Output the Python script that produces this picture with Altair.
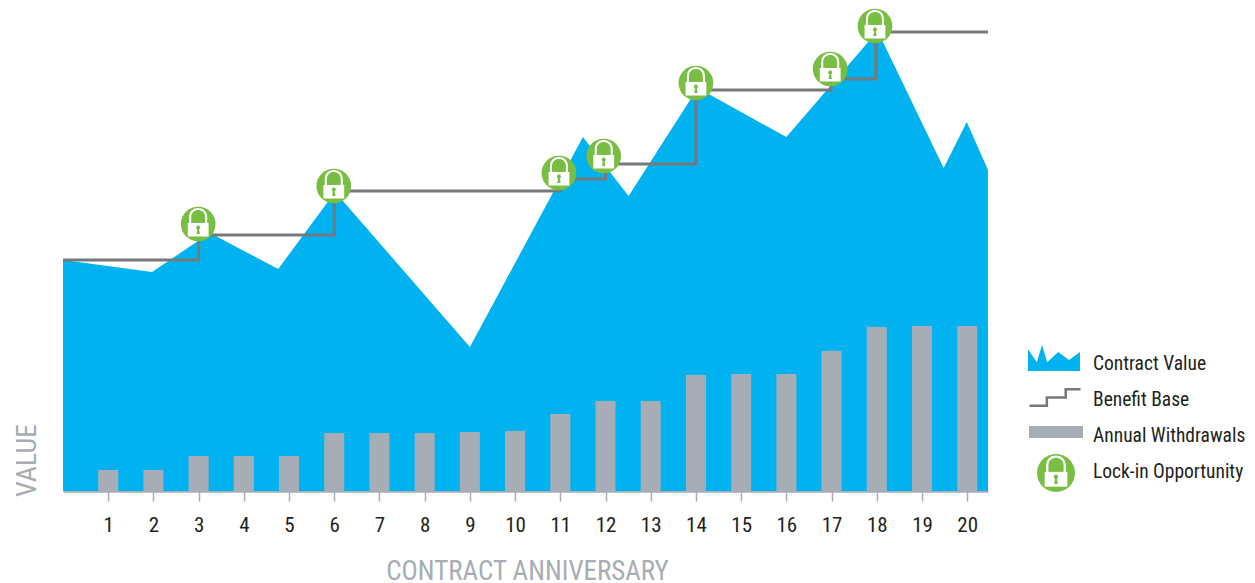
import altair as alt
import pandas as pd

# Series values (value units = pixels above baseline in the reference)
anniversaries = list(range(1, 21))
withdrawals = [21, 21, 35, 35, 35, 58, 58, 58, 59, 60, 77, 90, 90, 116, 117, 117, 140, 164, 165, 165]
contract_x = [0, 1.97, 3.25, 4.76, 6.02, 9, 11.5, 12.51, 14.04, 16, 18.02, 19.48, 19.99, 20.46]
contract_y = [231, 219, 258, 222, 299, 144, 354, 295, 403, 354, 460, 323, 369, 321]
base_x = [0, 3, 6, 11, 12, 14, 16.99, 17.98, 20.46]
base_y = [231, 256, 300, 312, 327, 401, 412, 459, 459]
lock_x = [2.99, 5.99, 10.97, 11.96, 14, 16.97, 17.96]
lock_y = [267, 305, 318, 335, 408, 422, 465]
legend_labels = ["Contract Value", "Benefit Base", "Annual Withdrawals", "Lock-in Opportunity"]
legend_y = [127, 91, 55, 19]

FONT = "Roboto Condensed, Roboto"
BLUE = "#00b2ef"
BAR = "#a7adb5"
STEP = "#77787b"
GREEN = "#78be43"
INK = "#231f20"

W, H = 925, 483
x_scale = alt.Scale(domain=[0, 20.46], nice=False, zero=False, padding=0)
y_scale = alt.Scale(domain=[0, 483], nice=False)

SHACKLE = ("M-0.26,0 L-0.26,-0.2 C-0.26,-0.55 0.26,-0.55 0.26,-0.2 L0.26,0 L0.2,0 L0.2,-0.2 "
           "C0.2,-0.47 -0.2,-0.47 -0.2,-0.2 L-0.2,0 Z")
BODY = "M-0.3,-0.03 L0.3,-0.03 L0.3,0.36 L-0.3,0.36 Z"
KEY = "M-0.05,0.29 L-0.025,0.16 C-0.08,0.12 -0.06,0.04 0,0.04 C0.06,0.04 0.08,0.12 0.025,0.16 L0.05,0.29 Z"
AREA_ICON = "M-0.5,0.25 L-0.5,-0.17 L-0.33,0.08 L-0.23,-0.25 L-0.13,0.08 L0.08,-0.115 L0.29,0.04 L0.5,-0.115 L0.5,0.25 Z"
STEP_ICON = "M-0.5,0.16 L-0.16,0.16 L-0.16,0 L0.21,0 L0.21,-0.16 L0.5,-0.16"
BAR_ICON = "M-0.5,-0.11 L0.5,-0.11 L0.5,0.11 L-0.5,0.11 Z"

axis_x = alt.Axis(values=anniversaries, format="d", grid=False, domainColor=BAR, domainWidth=2.5,
                  tickColor=BAR, tickWidth=1.5, tickSize=10, labelFont=FONT, labelFontSize=21,
                  labelColor=INK, labelPadding=13, title="CONTRACT ANNIVERSARY", titleFont=FONT,
                  titleFontSize=27, titleFontWeight="normal", titleColor=BAR, titleX=464,
                  titleY=88, titleBaseline="alphabetic", labelFlush=False)
axis_y = alt.Axis(ticks=False, labels=False, domain=False, grid=False, title="VALUE", titleFont=FONT,
                  titleFontSize=28, titleFontWeight="normal", titleColor=BAR, titleX=-28,
                  titleY=452, titleAngle=270, titleBaseline="alphabetic", titleAlign="center")


def x_enc():
    return alt.X("x:Q", scale=x_scale, axis=axis_x)


def y_enc():
    return alt.Y("y:Q", scale=y_scale, axis=axis_y)


contract = pd.DataFrame({"x": contract_x, "y": contract_y})
bars = pd.DataFrame({"x": anniversaries, "y": withdrawals})
base = pd.DataFrame({"x": base_x, "y": base_y})
locks = pd.DataFrame({"x": lock_x, "y": lock_y})
legend = pd.DataFrame({"label": legend_labels, "y": legend_y})
one = pd.DataFrame({"a": [1]})

area = alt.Chart(contract).mark_area(color=BLUE, opacity=1).encode(x=x_enc(), y=y_enc())
bar = alt.Chart(bars).mark_bar(color=BAR, size=20).encode(x=x_enc(), y=y_enc())
step = alt.Chart(base).mark_line(color=STEP, strokeWidth=3, interpolate="step-after").encode(x=x_enc(), y=y_enc())


def lock_layers(data, enc, d=34.7):
    s = (2 * d) ** 2
    return [
        alt.Chart(data).mark_point(shape="circle", filled=True, color=GREEN, opacity=1, size=d * d, strokeWidth=0).encode(**enc),
        alt.Chart(data).mark_point(shape=SHACKLE, filled=True, color="white", opacity=1, size=s, strokeWidth=0).encode(**enc),
        alt.Chart(data).mark_point(shape=BODY, filled=True, color="white", opacity=1, size=s, strokeWidth=0).encode(**enc),
        alt.Chart(data).mark_point(shape=KEY, filled=True, color=GREEN, opacity=1, size=s, strokeWidth=0).encode(**enc),
    ]


lock_enc = {"x": x_enc(), "y": y_enc()}

# Legend (hand-built because its icons are glyph-like)
leg_text = alt.Chart(legend).mark_text(align="left", baseline="middle", font=FONT, fontSize=19.5, color=INK).encode(
    x=alt.value(1093 - 63), y=y_enc(), text="label:N")
leg_area = alt.Chart(one).mark_point(shape=AREA_ICON, filled=True, color=BLUE, opacity=1,
    size=(2 * 52) ** 2, strokeWidth=0).encode(x=alt.value(1054 - 63), y=alt.value(358 - 8))
leg_step = alt.Chart(one).mark_point(shape=STEP_ICON, filled=False, color=STEP, opacity=1,
    size=(2 * 51) ** 2, strokeWidth=2.5).encode(x=alt.value(1055 - 63), y=alt.value(397.5 - 8))
leg_bar = alt.Chart(one).mark_point(shape=BAR_ICON, filled=True, color=BAR, opacity=1,
    size=(2 * 54) ** 2, strokeWidth=0).encode(x=alt.value(1056 - 63), y=alt.value(432 - 8))
leg_lock = lock_layers(one, {"x": alt.value(1056 - 63), "y": alt.value(473 - 8)}, d=38)

chart = alt.layer(area, bar, step, *lock_layers(locks, lock_enc), leg_text, leg_area, leg_step, leg_bar, *leg_lock).properties(
    width=W, height=H,
    padding={"left": 55, "top": 0, "right": 259, "bottom": 100},
    autosize=alt.AutoSizeParams(type="none"),
).configure_view(stroke=None)

chart.save("out.html", embed_options={"renderer": "svg", "actions": False})
